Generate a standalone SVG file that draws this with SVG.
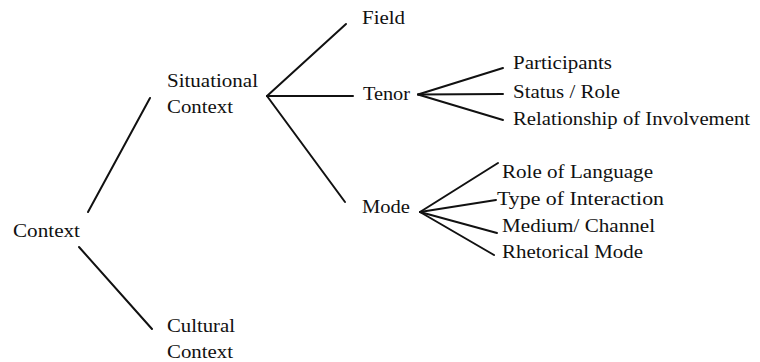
<svg xmlns="http://www.w3.org/2000/svg" width="760" height="362" viewBox="0 0 760 362">
<style>
text{font-family:"Liberation Serif","Times New Roman",serif;font-size:19px;fill:#111}
.c line{stroke:#111;stroke-width:2;stroke-linecap:round}
</style>
<rect width="760" height="362" fill="#fff"/>
<g class="c" id="connectors">
<line x1="88" y1="212" x2="150" y2="98"/>
<line x1="79" y1="247" x2="152" y2="329"/>
<line x1="267" y1="96" x2="346" y2="24"/>
<line x1="267" y1="96" x2="353" y2="96"/>
<line x1="267" y1="96" x2="345" y2="202"/>
<line x1="418" y1="94.5" x2="503" y2="68"/>
<line x1="418" y1="94.5" x2="503" y2="94"/>
<line x1="418" y1="94.5" x2="503" y2="120"/>
<line x1="420" y1="212" x2="498" y2="163"/>
<line x1="420" y1="212" x2="496" y2="200"/>
<line x1="420" y1="212" x2="497" y2="233"/>
<line x1="420" y1="212" x2="494" y2="255"/>
</g>
<g id="context"><text x="13" y="237" textLength="67" lengthAdjust="spacingAndGlyphs">Context</text></g>
<g id="situational"><text x="167" y="87" textLength="91" lengthAdjust="spacingAndGlyphs">Situational</text><text x="167" y="113" textLength="66" lengthAdjust="spacingAndGlyphs">Context</text></g>
<g id="cultural"><text x="167" y="332" textLength="68" lengthAdjust="spacingAndGlyphs">Cultural</text><text x="167" y="358" textLength="66" lengthAdjust="spacingAndGlyphs">Context</text></g>
<g id="field"><text x="362" y="24" textLength="43" lengthAdjust="spacingAndGlyphs">Field</text></g>
<g id="tenor"><text x="363" y="100" textLength="47" lengthAdjust="spacingAndGlyphs">Tenor</text></g>
<g id="mode"><text x="362" y="213" textLength="48" lengthAdjust="spacingAndGlyphs">Mode</text></g>
<g id="participants"><text x="513" y="69" textLength="99" lengthAdjust="spacingAndGlyphs">Participants</text></g>
<g id="status"><text x="513" y="98" textLength="107" lengthAdjust="spacingAndGlyphs">Status / Role</text></g>
<g id="relationship"><text x="513" y="125" textLength="237" lengthAdjust="spacingAndGlyphs">Relationship of Involvement</text></g>
<g id="roleoflanguage"><text x="502" y="178" textLength="151" lengthAdjust="spacingAndGlyphs">Role of Language</text></g>
<g id="typeofinteraction"><text x="497" y="205" textLength="167" lengthAdjust="spacingAndGlyphs">Type of Interaction</text></g>
<g id="medium"><text x="502" y="232" textLength="153" lengthAdjust="spacingAndGlyphs">Medium/ Channel</text></g>
<g id="rhetorical"><text x="502" y="258" textLength="141" lengthAdjust="spacingAndGlyphs">Rhetorical Mode</text></g>
</svg>
